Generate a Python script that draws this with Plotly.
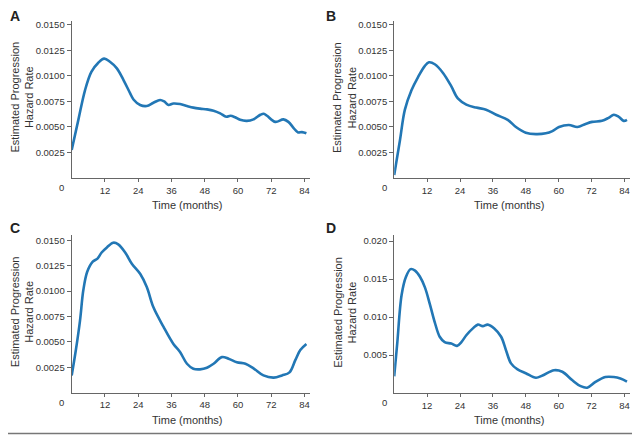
import plotly.graph_objects as go

# ---------- data ----------
months_a = [0, 2.4, 4.8, 7.1, 9.6, 11.7, 13.8, 16.3, 18.7, 21.1, 22.3, 24.7, 27.1, 29.5, 31.9, 33.4,
            34.9, 36.7, 39.1, 41.6, 43.9, 46.3, 48.8, 51.2, 53.6, 55.8, 57.3, 59, 60.8, 63.2, 65.6,
            68.1, 69.3, 70.5, 73.5, 76.4, 78.2, 80.1, 81.6, 83.1, 84.7]
hazard_a = [0.00275, 0.0057, 0.0086, 0.0104, 0.0113, 0.0117, 0.0114, 0.01075, 0.0096, 0.0083, 0.0077,
            0.00716, 0.00706, 0.00738, 0.00765, 0.0075, 0.00716, 0.0073, 0.00725, 0.00706, 0.0069,
            0.0068, 0.00673, 0.0066, 0.00634, 0.0060, 0.0061, 0.00595, 0.0057, 0.0056, 0.00575,
            0.0062, 0.0063, 0.0061, 0.0055, 0.00575, 0.0055, 0.0049, 0.00448, 0.0045, 0.00438]

months_b = [0, 2.1, 3.9, 6.3, 8.7, 11.2, 12.7, 14.8, 17.8, 20.8, 23.2, 26.3, 29.9, 33.5, 37.2, 41.4,
            44.4, 48, 51.7, 55.3, 57.7, 60.1, 63.7, 66.8, 69.8, 72.2, 75.8, 78.2, 80.1, 81.9, 83.7, 84.9]
hazard_b = [0.0003, 0.0037, 0.0067, 0.0086, 0.0099, 0.0110, 0.01134, 0.01115, 0.0103, 0.0090, 0.0078,
            0.0072, 0.0069, 0.0067, 0.0062, 0.0057, 0.0050, 0.00444, 0.0043, 0.00438, 0.0046, 0.0050,
            0.0052, 0.0050, 0.0053, 0.0055, 0.0056, 0.0059, 0.0062, 0.0060, 0.0056, 0.0057]

months_c = [0, 1.5, 3, 4.2, 5.6, 7.6, 9.3, 10.8, 12.7, 15, 16.8, 19.3, 21.7, 24.7, 27.1, 29.5, 33.1,
            36.7, 39.1, 41.6, 43.9, 46.3, 48.8, 51.2, 54.2, 56.6, 59.6, 62.7, 65.6, 69.2, 72.9, 75.9,
            78.6, 80.7, 82.5, 84.7]
hazard_c = [0.0017, 0.0042, 0.0071, 0.0101, 0.0119, 0.0129, 0.0132, 0.0138, 0.0143, 0.01476, 0.0146,
            0.0138, 0.0127, 0.0117, 0.0104, 0.0084, 0.0065, 0.0048, 0.0040, 0.00285, 0.00236, 0.0023,
            0.00245, 0.00285, 0.0035, 0.00335, 0.0030, 0.00285, 0.0024, 0.0017, 0.00148, 0.0017,
            0.0020, 0.0032, 0.0042, 0.0048]

months_d = [0, 1.1, 2.7, 4.3, 6, 7.6, 9.4, 11.2, 13, 14.8, 16.6, 18.4, 20.8, 22.9, 24.5, 26.3, 28.7,
            30.5, 32.3, 34.1, 36.5, 39, 40.8, 42.6, 45, 48, 51.7, 54.1, 58.3, 61.3, 64.9, 68, 70.4,
            73.4, 77, 80.1, 82.5, 84.9]
hazard_d = [0.0022, 0.0065, 0.0129, 0.0153, 0.0163, 0.0161, 0.0153, 0.0139, 0.0117, 0.0093, 0.0074,
            0.0067, 0.0065, 0.0062, 0.0067, 0.0076, 0.0085, 0.0090, 0.0088, 0.0090, 0.0085, 0.0074,
            0.0056, 0.0039, 0.0031, 0.0026, 0.0020, 0.0023, 0.0030, 0.0028, 0.0017, 0.0009, 0.0007,
            0.00145, 0.0021, 0.0021, 0.0019, 0.0015]

x_ticks = [12, 24, 36, 48, 60, 72, 84]
y_ticks_abc = [0.0025, 0.0050, 0.0075, 0.0100, 0.0125, 0.0150]
y_ticks_d = [0.005, 0.010, 0.015, 0.020]
panel_labels = ["A", "B", "C", "D"]

# ---------- layout ----------
# the page body has an 8px default margin, so the figure is sized to the remaining area
OFF = 8
W, H = 640 - OFF, 435 - OFF
BLUE = "#2277b5"
AXIS = "#666666"
TXT = "#333333"
FONT = "Liberation Sans, Arial, sans-serif"
TICK_SIZE = 9.5
TITLE_SIZE = 11

def px_x(p):
    return (p - OFF) / W

def px_y(p):
    return 1 - (p - OFF) / H

panels = [
    dict(x=(71.7, 310), y=(20.7, 178), months=months_a, hz=hazard_a, ticks=y_ticks_abc,
         fmt=".4f", yr=0.01542),
    dict(x=(394.2, 630), y=(20.7, 178), months=months_b, hz=hazard_b, ticks=y_ticks_abc,
         fmt=".4f", yr=0.01542),
    dict(x=(71.7, 310), y=(235.3, 392.7), months=months_c, hz=hazard_c, ticks=y_ticks_abc,
         fmt=".4f", yr=0.01549),
    dict(x=(394.2, 630), y=(235.3, 393), months=months_d, hz=hazard_d, ticks=y_ticks_d,
         fmt=".3f", yr=0.02075),
]

fig = go.Figure()
layout = dict(width=W, height=H, margin=dict(l=0, r=0, t=0, b=0, pad=0, autoexpand=False),
              paper_bgcolor="white", plot_bgcolor="white", showlegend=False,
              font=dict(family=FONT, color=TXT))
annotations = []

for i, p in enumerate(panels):
    n = "" if i == 0 else str(i + 1)
    fig.add_trace(go.Scatter(x=p["months"], y=p["hz"], mode="lines",
                             line=dict(color=BLUE, width=2.6, shape="spline", smoothing=1.0),
                             xaxis="x" + n, yaxis="y" + n, hoverinfo="skip", cliponaxis=False))
    x0, x1 = p["x"]
    y0, y1 = p["y"]
    layout["xaxis" + n] = dict(domain=[px_x(x0), px_x(x1)], range=[0, 86], anchor="y" + n,
                               tickvals=x_ticks, ticks="outside", ticklen=3, tickcolor=AXIS,
                               showline=True, linecolor=AXIS, linewidth=1.2, showgrid=False,
                               zeroline=False, automargin=False,
                               tickfont=dict(size=TICK_SIZE, color=TXT, family=FONT))
    layout["yaxis" + n] = dict(domain=[px_y(y1), px_y(y0)], range=[0, p["yr"]], anchor="x" + n,
                               tickvals=p["ticks"], tickformat=p["fmt"], ticks="outside",
                               ticklen=4, tickcolor=AXIS, showline=True, linecolor=AXIS,
                               linewidth=1.2, showgrid=False, zeroline=False, automargin=False,
                               tickfont=dict(size=TICK_SIZE, color=TXT, family=FONT))
    # "0" corner label
    annotations.append(dict(text="0", xref="paper", yref="paper", x=px_x(x0 - 10),
                            y=px_y(y1 + 9.5), showarrow=False, xanchor="center", yanchor="middle",
                            font=dict(size=TICK_SIZE, color=TXT, family=FONT)))
    # x title
    annotations.append(dict(text="Time (months)", xref="paper", yref="paper",
                            x=px_x((x0 + x1) / 2 - 3), y=px_y(y1 + 27), showarrow=False,
                            xanchor="center", yanchor="middle",
                            font=dict(size=TITLE_SIZE, color=TXT, family=FONT)))
    # y title
    annotations.append(dict(text="Estimated Progression<br>Hazard Rate", xref="paper",
                            yref="paper", x=px_x(x0 - 49.5),
                            y=px_y((y0 + y1) / 2 - 2), showarrow=False, textangle=-90,
                            xanchor="center", yanchor="middle",
                            font=dict(size=TITLE_SIZE, color=TXT, family=FONT)))
    # panel letter
    lx = 14.5 if i % 2 == 0 else 331
    ly = 16 if i < 2 else 228
    annotations.append(dict(text="<b>%s</b>" % panel_labels[i], xref="paper", yref="paper",
                            x=px_x(lx), y=px_y(ly), showarrow=False, xanchor="center",
                            yanchor="middle",
                            font=dict(size=14, color="#222222", family=FONT)))

layout["annotations"] = annotations
# outer frame: right and bottom edges of the image
layout["shapes"] = [
    dict(type="line", xref="paper", yref="paper", x0=px_x(638), x1=px_x(638), y0=0, y1=1,
         line=dict(color="#777777", width=1.5)),
    dict(type="line", xref="paper", yref="paper", x0=0, x1=1, y0=px_y(433.5), y1=px_y(433.5),
         line=dict(color="#777777", width=1.5)),
]
fig.update_layout(**layout)
fig.write_html("out.html")
